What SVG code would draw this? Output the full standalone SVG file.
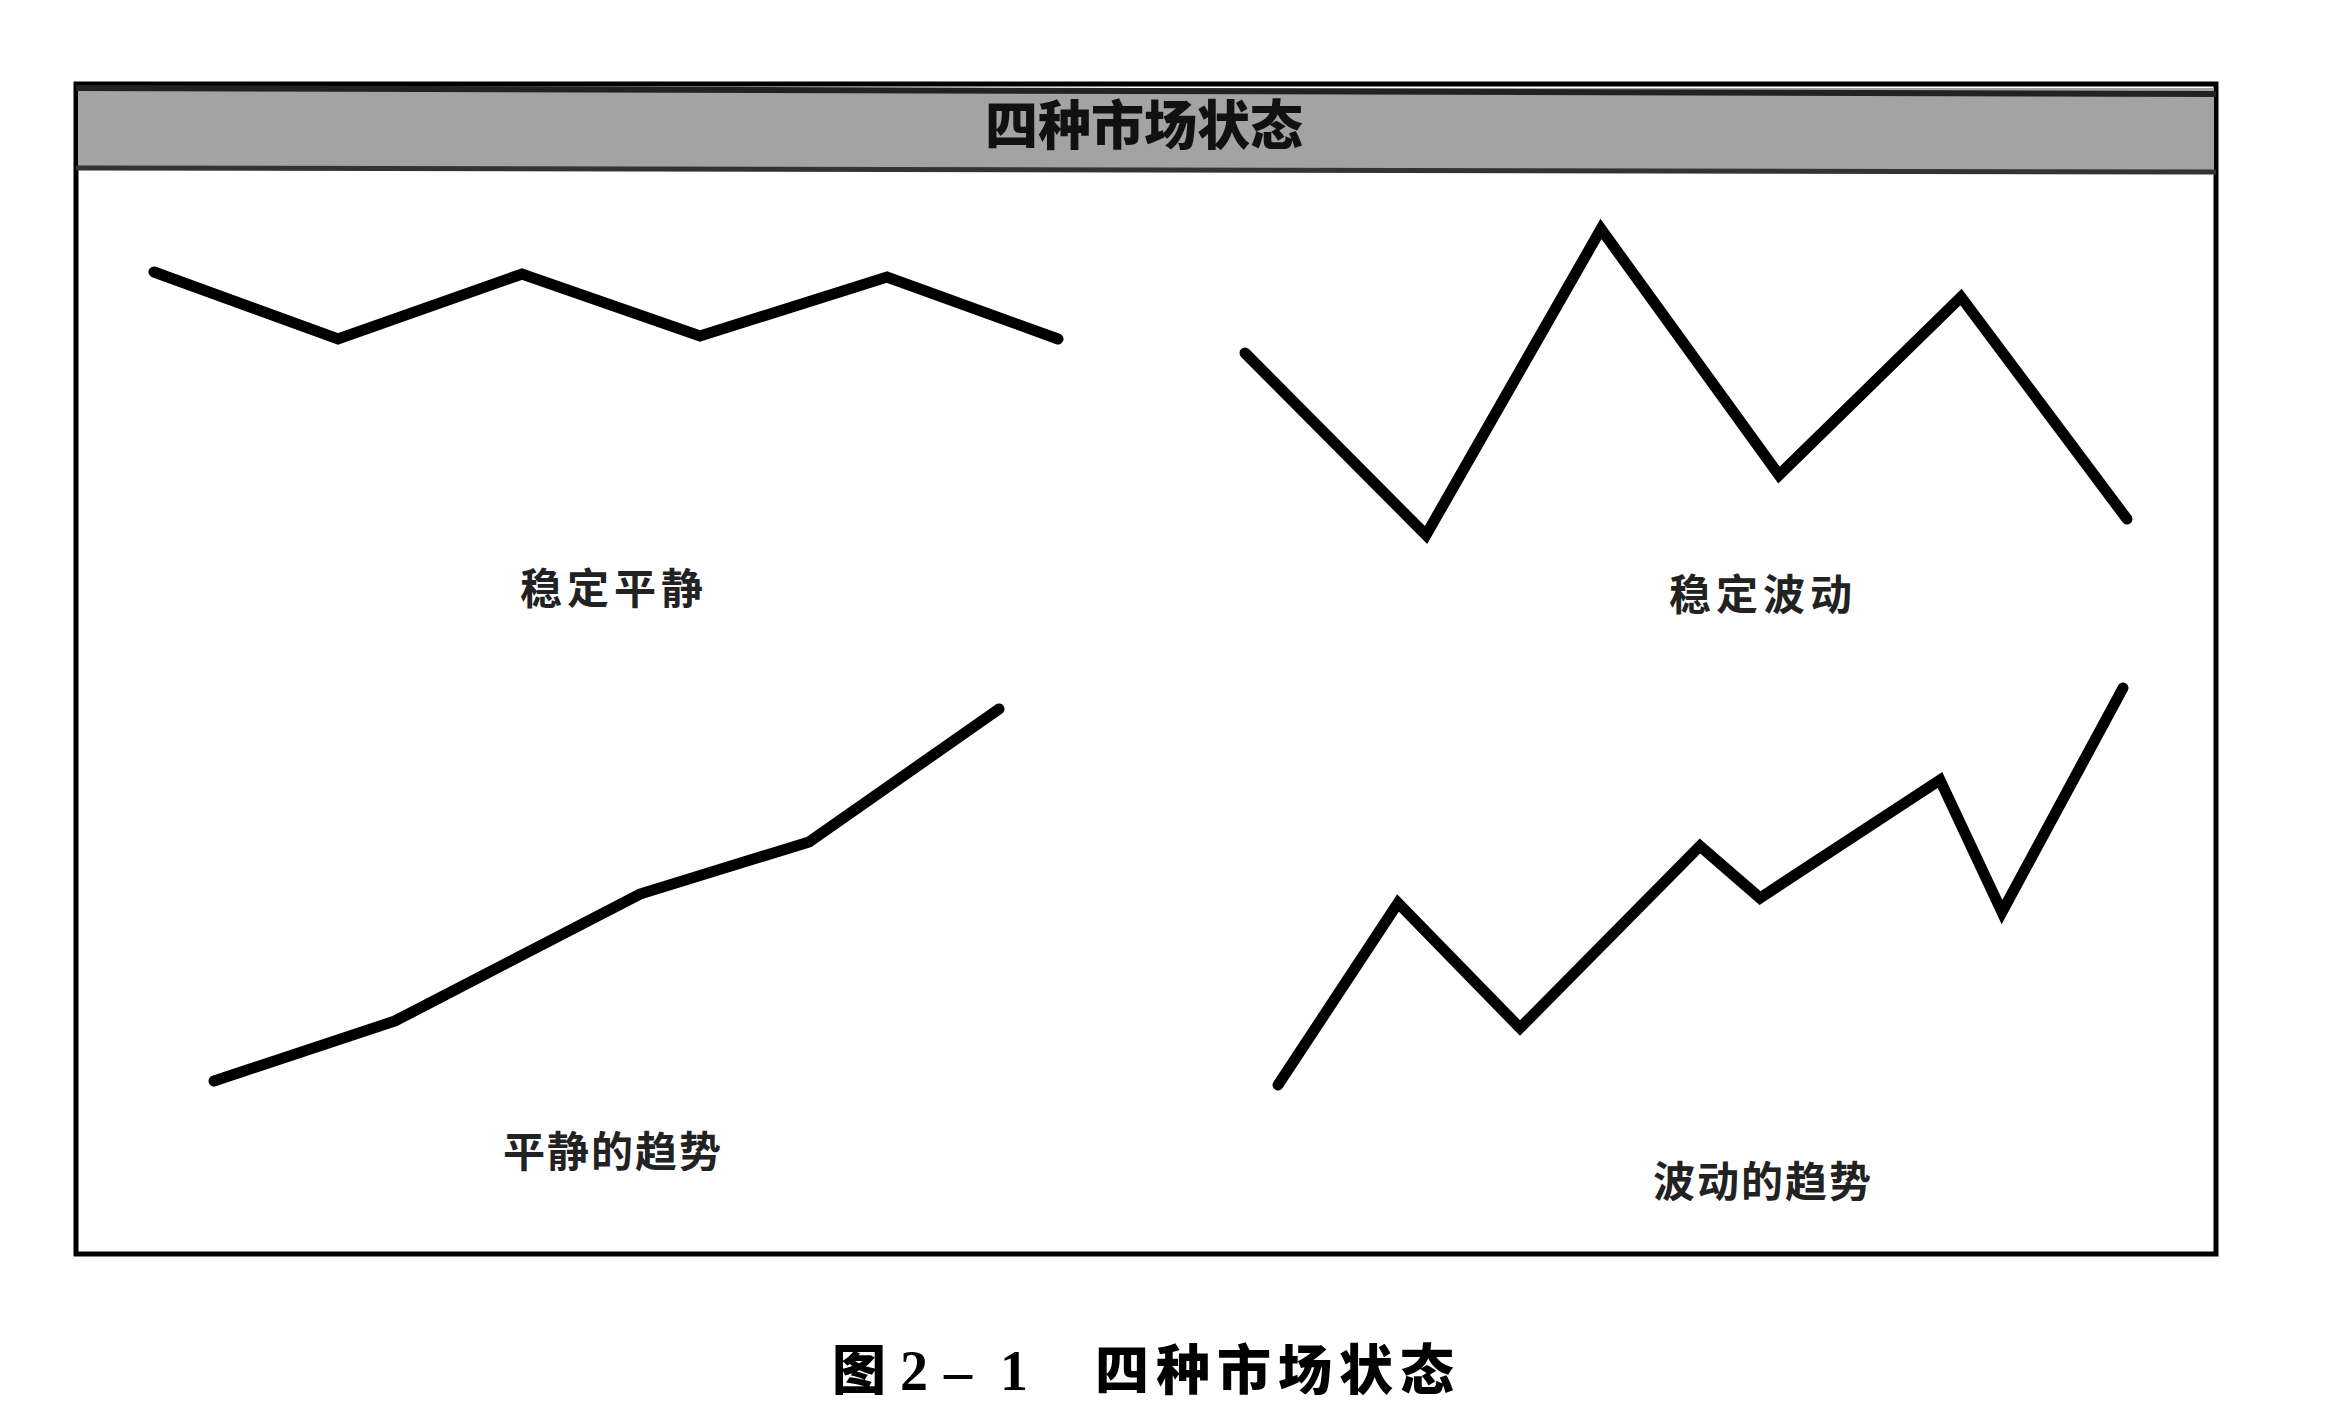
<svg xmlns="http://www.w3.org/2000/svg" width="2344" height="1416" viewBox="0 0 2344 1416">
<style>
.ln{fill:none;stroke:#000;stroke-width:11;stroke-linejoin:miter;stroke-linecap:round}
.lb{font-family:"Noto Sans CJK SC",sans-serif;font-weight:bold;font-size:42px;fill:#222;text-anchor:middle}
.cap{font-family:"Noto Sans CJK SC",sans-serif;font-weight:900;font-size:54px;fill:#000}
.num{font-family:"Liberation Serif","Noto Sans CJK SC",serif;font-weight:bold;font-size:56px;fill:#000}
</style>
<rect width="2344" height="1416" fill="#fff"/>
<g id="frame">
<rect x="76" y="84" width="2140" height="1170" fill="#fff" stroke="#000" stroke-width="5"/>
<rect x="78" y="88" width="2136" height="82" fill="#a3a3a3"/>
<line x1="76" y1="88" x2="2216" y2="94" stroke="#222" stroke-width="6"/>
<line x1="76" y1="168" x2="2216" y2="172" stroke="#333" stroke-width="5"/>
<text x="1144" y="145" font-family="'Noto Sans CJK SC',sans-serif" font-weight="900" font-size="53" fill="#111" text-anchor="middle">四种市场状态</text>
</g>
<g id="connectors">
<polyline id="p1" class="ln" points="154,272 338,339 522,274 700,336 887,277 1058,339"/>
<polyline id="p2" class="ln" points="1245,353 1426,535 1601,229 1779,475 1961,297 2127,519"/>
<polyline id="p3" class="ln" points="214,1081 395,1021 640,894 809,842 999,709"/>
<polyline id="p4" class="ln" points="1278,1085 1398,903 1520,1028 1700,846 1760,898 1940,780 2002,912 2123,688"/>
</g>
<g id="n1"><text class="lb" x="614" y="604" letter-spacing="5">稳定平静</text></g>
<g id="n2"><text class="lb" x="1763" y="610" letter-spacing="5">稳定波动</text></g>
<g id="n3"><text class="lb" x="613" y="1167" font-size="45" letter-spacing="2">平静的趋势</text></g>
<g id="n4"><text class="lb" x="1763" y="1197" font-size="45" letter-spacing="2">波动的趋势</text></g>
<g id="caption">
<text class="cap" x="832" y="1390">图</text>
<text class="num" x="900" y="1390">2</text>
<text class="num" x="944" y="1390">–</text>
<text class="num" x="1000" y="1390">1</text>
<text class="cap" x="1095" y="1390" letter-spacing="7">四种市场状态</text>
</g>
</svg>
